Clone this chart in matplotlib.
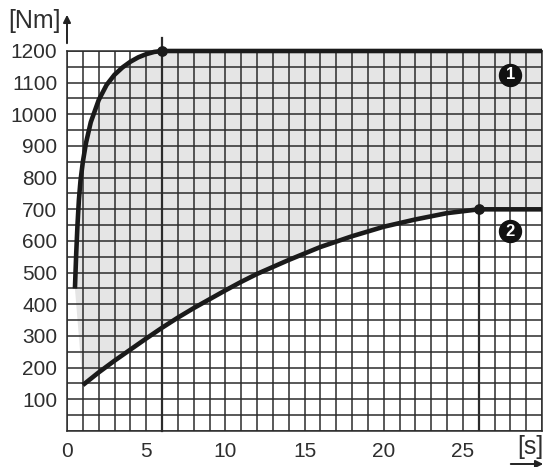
import matplotlib
matplotlib.use("Agg")
import matplotlib.pyplot as plt
from matplotlib.patches import FancyArrowPatch
from matplotlib.ticker import FixedLocator, MultipleLocator

# curva 1: torque maximo (sobe rapido e satura em 1200 Nm aos 6 s)
t1 = [0.5, 0.58, 0.66, 0.75, 0.85, 1.0, 1.2, 1.5, 2.0, 2.5, 3.0, 3.5, 4.0, 4.5, 5.0, 5.5, 6.0, 30.0]
m1 = [450, 560, 650, 730, 790, 850, 910, 975, 1045, 1093, 1125, 1148, 1166, 1180, 1190, 1197, 1200, 1200]

# curva 2: sobe devagar e satura em 700 Nm aos 26 s
t2 = [1, 2, 3, 4, 5, 6, 7, 8, 9, 10, 11, 12, 13, 14, 16, 18, 20, 22, 24, 26, 30]
m2 = [145, 185, 222, 257, 292, 326, 358, 388, 416, 444, 471, 496, 518, 540, 581, 615, 645, 668, 688, 700, 700]

knee_t = [6, 26]
knee_m = [1200, 700]

xticks = [0, 5, 10, 15, 20, 25]
yticks = [100, 200, 300, 400, 500, 600, 700, 800, 900, 1000, 1100, 1200]

labels = ["1", "2"]
label_t = [28, 28]
label_m = [1125, 630]

INK = "#2b2b2b"
TXT = "#2e2e2e"
FILL = "#e5e5e5"


def main():
    plt.rcParams["font.family"] = ["Liberation Sans", "DejaVu Sans"]
    fig = plt.figure(figsize=(5.48, 4.67), dpi=100)
    ax = fig.add_axes([0.1223, 0.0771, 0.8668, 0.8137])

    ax.set_xlim(0, 30)
    ax.set_ylim(0, 1200)

    # area cinza entre as duas curvas
    poly_t = t1 + t2[::-1]
    poly_m = m1 + m2[::-1]
    ax.fill(poly_t, poly_m, color=FILL, lw=0, zorder=0)

    ax.xaxis.set_major_locator(FixedLocator(xticks))
    ax.xaxis.set_minor_locator(MultipleLocator(1))
    ax.yaxis.set_major_locator(FixedLocator(yticks))
    ax.yaxis.set_minor_locator(MultipleLocator(50))
    ax.grid(True, which="both", color=INK, lw=1.1, zorder=1)
    ax.set_axisbelow(False)
    ax.tick_params(which="both", length=0, labelsize=15, labelcolor=TXT)
    ax.tick_params(axis="y", pad=7)
    ax.tick_params(axis="x", pad=8)
    for s in ax.spines.values():
        s.set_color(INK)
        s.set_linewidth(1.1)

    # linhas verticais nos pontos de saturacao
    ax.plot([knee_t[0], knee_t[0]], [0, 1240], color=INK, lw=1.6, clip_on=False, zorder=3)
    ax.plot([knee_t[1], knee_t[1]], [0, knee_m[1]], color=INK, lw=1.6, zorder=3)

    ax.plot(t1, m1, color="#1a1a1a", lw=3.3, solid_capstyle="butt",
            solid_joinstyle="round", clip_on=False, zorder=4)
    ax.plot(t2, m2, color="#1a1a1a", lw=3.3, solid_capstyle="butt",
            solid_joinstyle="round", clip_on=False, zorder=4)
    ax.scatter(knee_t, knee_m, s=45, color="#1a1a1a", zorder=5, clip_on=False)

    for lab, t, m in zip(labels, label_t, label_m):
        ax.scatter([t], [m], s=250, color="#111111", zorder=6)
        ax.text(t, m, lab, color="white", fontsize=12, fontweight="bold",
                ha="center", va="center", zorder=7)

    # eixos com setas
    fig.add_artist(FancyArrowPatch(
        (67 / 548, 1 - 46 / 467), (67 / 548, 1 - 12 / 467), transform=fig.transFigure,
        arrowstyle="-|>", mutation_scale=11, color="#222222", lw=1.4))
    fig.add_artist(FancyArrowPatch(
        (508 / 548, 1 - 464 / 467), (546 / 548, 1 - 464 / 467), transform=fig.transFigure,
        arrowstyle="-|>", mutation_scale=11, color="#222222", lw=1.4))
    fig.text(34 / 548, 1 - 21 / 467, "[Nm]", fontsize=18, color=TXT,
             ha="center", va="center")
    fig.text(530 / 548, 1 - 447 / 467, "[s]", fontsize=18, color=TXT,
             ha="center", va="center")

    fig.savefig("out.png", dpi=100)
    plt.close(fig)


if __name__ == "__main__":
    main()
